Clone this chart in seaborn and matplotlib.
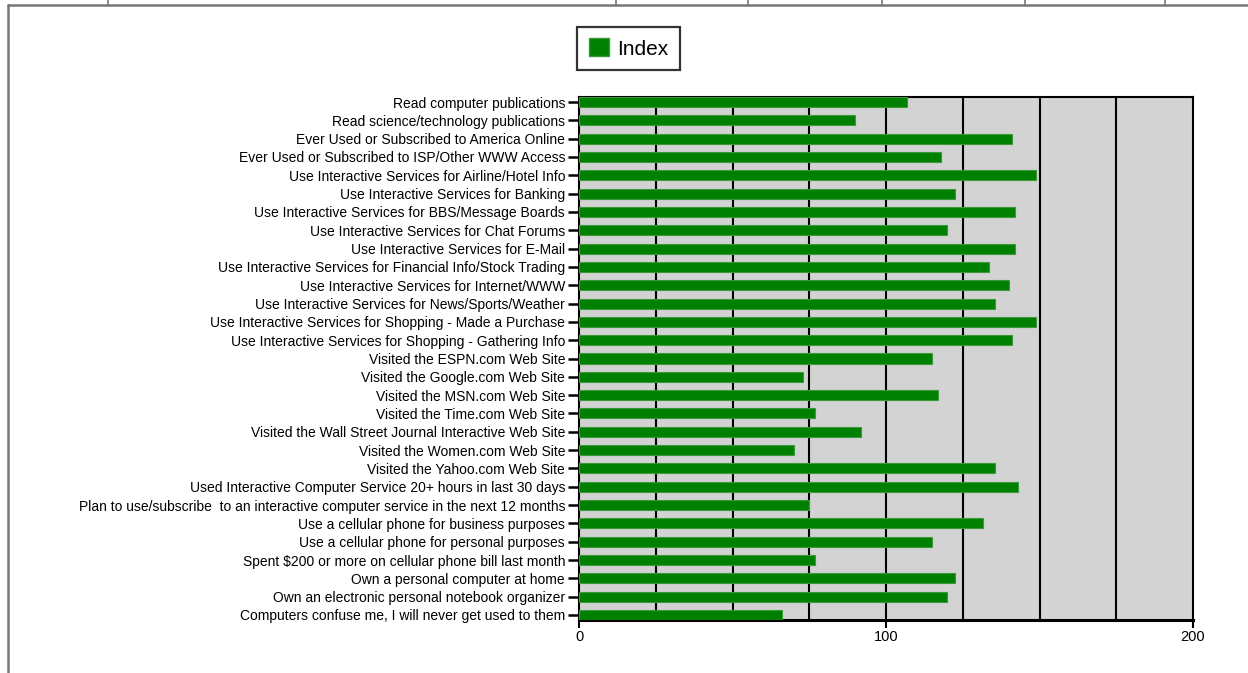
import pandas as pd
import numpy as np
import seaborn as sns
import matplotlib.pyplot as plt
from matplotlib.lines import Line2D
from matplotlib.patches import Patch
from matplotlib.ticker import MultipleLocator

labels = [
    "Read computer publications",
    "Read science/technology publications",
    "Ever Used or Subscribed to America Online",
    "Ever Used or Subscribed to ISP/Other WWW Access",
    "Use Interactive Services for Airline/Hotel Info",
    "Use Interactive Services for Banking",
    "Use Interactive Services for BBS/Message Boards",
    "Use Interactive Services for Chat Forums",
    "Use Interactive Services for E-Mail",
    "Use Interactive Services for Financial Info/Stock Trading",
    "Use Interactive Services for Internet/WWW",
    "Use Interactive Services for News/Sports/Weather",
    "Use Interactive Services for Shopping - Made a Purchase",
    "Use Interactive Services for Shopping - Gathering Info",
    "Visited the ESPN.com Web Site",
    "Visited the Google.com Web Site",
    "Visited the MSN.com Web Site",
    "Visited the Time.com Web Site",
    "Visited the Wall Street Journal Interactive Web Site",
    "Visited the Women.com Web Site",
    "Visited the Yahoo.com Web Site",
    "Used Interactive Computer Service 20+ hours in last 30 days",
    "Plan to use/subscribe  to an interactive computer service in the next 12 months",
    "Use a cellular phone for business purposes",
    "Use a cellular phone for personal purposes",
    "Spent $200 or more on cellular phone bill last month",
    "Own a personal computer at home",
    "Own an electronic personal notebook organizer",
    "Computers confuse me, I will never get used to them",
]

index_values = [107, 90, 141, 118, 149, 122.5, 142, 120, 142, 133.5,
                140, 135.5, 149, 141, 115, 73, 117, 77, 92, 70,
                135.5, 143, 75, 131.5, 115, 77, 122.5, 120, 66]

x_ticks = [0, 100, 200]

df = pd.DataFrame({"label": labels, "Index": index_values})

sns.set_style("white")
plt.rcParams['font.family'] = ['Liberation Sans', 'DejaVu Sans']
plt.rcParams['text.color'] = 'black'
plt.rcParams['xtick.color'] = 'black'
plt.rcParams['ytick.color'] = 'black'

fig = plt.figure(figsize=(12.48, 6.73), dpi=100)
ax = fig.add_axes([579 / 1248, 1 - 620 / 673, (1193 - 579) / 1248, (620 - 97) / 673])

bar_w = 0.55
sns.barplot(data=df, y="label", x="Index", orient="h", color="#008000", saturation=1,
            width=bar_w, edgecolor="#3a9a3a", linewidth=0.8, ax=ax, zorder=3)

ax.set_facecolor("#d3d3d3")
ax.set_xlim(0, 200)
ax.set_ylim(len(labels) - 1 + bar_w / 2, -bar_w / 2)
ax.set_xticks(x_ticks)
ax.set_xticklabels([str(t) for t in x_ticks])
ax.xaxis.set_minor_locator(MultipleLocator(25))
ax.grid(False)
for v in np.arange(25, 200, 25):
    ax.axvline(v, color="black", linewidth=1.5, zorder=1)
ax.set_xlabel("")
ax.set_ylabel("")
ax.tick_params(axis="y", which="major", direction="out", length=8, width=1.8,
               color="black", labelcolor="black", labelsize=10, pad=2, left=True)
ax.tick_params(axis="x", which="major", direction="out", length=6, width=1.5,
               color="black", labelcolor="black", labelsize=10.5, pad=1, bottom=True)
ax.tick_params(axis="x", which="minor", length=0)

for side in ["top", "right", "left"]:
    ax.spines[side].set_color("black")
    ax.spines[side].set_linewidth(1.5)
    ax.spines[side].set_visible(True)
ax.spines["bottom"].set_color("black")
ax.spines["bottom"].set_linewidth(2.2)
ax.spines["bottom"].set_visible(True)

# legend
handle = Patch(facecolor="#008000", edgecolor="#3a9a3a", label="Index")
leg = fig.legend(handles=[handle], loc="center", bbox_to_anchor=(628.5 / 1248, 1 - 48.5 / 673),
                 fontsize=15, frameon=True, fancybox=False, edgecolor="black",
                 handlelength=0.95, handleheight=0.95, handletextpad=0.4,
                 borderpad=0.55, borderaxespad=0)
leg.get_frame().set_linewidth(1.6)
for t in leg.get_texts():
    t.set_color("black")

# page frame around the chart
gray = "#777777"
fig.add_artist(Line2D([8 / 1248, 8 / 1248], [0, 1 - 5 / 673], color=gray, linewidth=1.8,
                      transform=fig.transFigure))
fig.add_artist(Line2D([8 / 1248, 1], [1 - 5 / 673, 1 - 5 / 673], color=gray, linewidth=1.8,
                      transform=fig.transFigure))
for xs in [108, 616, 748, 882, 1025, 1165]:
    fig.add_artist(Line2D([xs / 1248, xs / 1248], [1 - 5 / 673, 1], color=gray, linewidth=1.2,
                          transform=fig.transFigure))

fig.savefig("out.png", dpi=100)
